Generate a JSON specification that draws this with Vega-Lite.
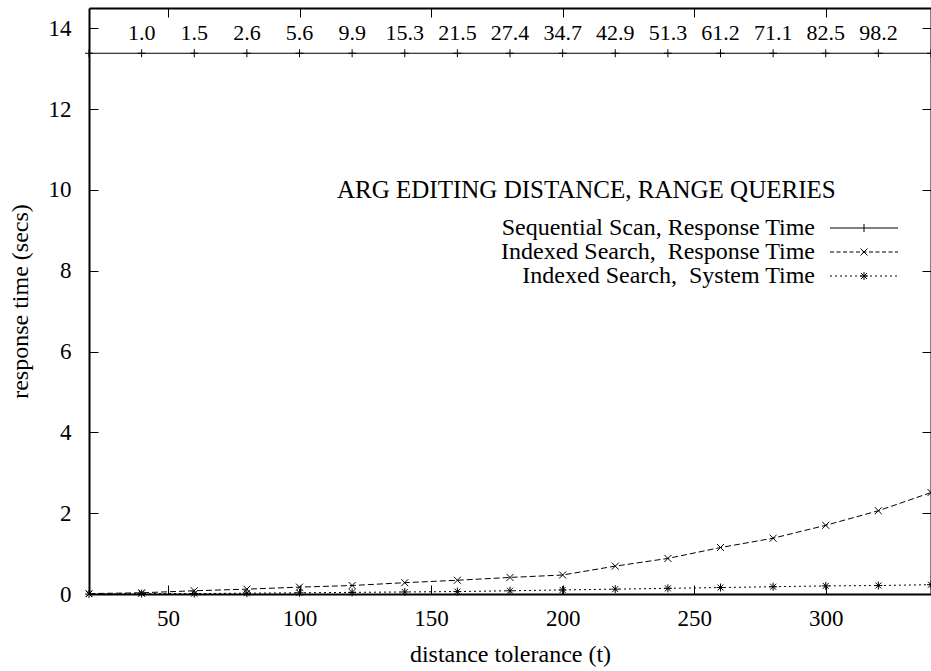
{
  "$schema": "https://vega.github.io/schema/vega-lite/v6.json",
  "width": 842,
  "height": 586,
  "autosize": {"type": "none"},
  "padding": {"left": 89, "top": 8, "right": 0, "bottom": 77},
  "background": "white",
  "config": {
    "view": {"stroke": null},
    "font": "Liberation Serif",
    "axis": {
      "grid": false,
      "domainColor": "black",
      "domainWidth": 2,
      "tickColor": "black",
      "tickWidth": 1,
      "tickSize": -9,
      "labelFont": "Liberation Serif",
      "labelFontSize": 23,
      "labelColor": "black",
      "titleFont": "Liberation Serif",
      "titleFontSize": 24,
      "titleFontWeight": "normal",
      "titleColor": "black"
    }
  },
  "data": {
    "values": [
      {"series": "Sequential Scan, Response Time", "x": 20, "y": 13.38, "label": null},
      {"series": "Sequential Scan, Response Time", "x": 40, "y": 13.38, "label": "1.0"},
      {"series": "Sequential Scan, Response Time", "x": 60, "y": 13.38, "label": "1.5"},
      {"series": "Sequential Scan, Response Time", "x": 80, "y": 13.38, "label": "2.6"},
      {"series": "Sequential Scan, Response Time", "x": 100, "y": 13.38, "label": "5.6"},
      {"series": "Sequential Scan, Response Time", "x": 120, "y": 13.38, "label": "9.9"},
      {"series": "Sequential Scan, Response Time", "x": 140, "y": 13.38, "label": "15.3"},
      {"series": "Sequential Scan, Response Time", "x": 160, "y": 13.38, "label": "21.5"},
      {"series": "Sequential Scan, Response Time", "x": 180, "y": 13.38, "label": "27.4"},
      {"series": "Sequential Scan, Response Time", "x": 200, "y": 13.38, "label": "34.7"},
      {"series": "Sequential Scan, Response Time", "x": 220, "y": 13.38, "label": "42.9"},
      {"series": "Sequential Scan, Response Time", "x": 240, "y": 13.38, "label": "51.3"},
      {"series": "Sequential Scan, Response Time", "x": 260, "y": 13.38, "label": "61.2"},
      {"series": "Sequential Scan, Response Time", "x": 280, "y": 13.38, "label": "71.1"},
      {"series": "Sequential Scan, Response Time", "x": 300, "y": 13.38, "label": "82.5"},
      {"series": "Sequential Scan, Response Time", "x": 320, "y": 13.38, "label": "98.2"},
      {"series": "Sequential Scan, Response Time", "x": 340, "y": 13.38, "label": null},
      {"series": "Indexed Search,\u00a0 Response Time", "x": 20, "y": 0.01},
      {"series": "Indexed Search,\u00a0 Response Time", "x": 40, "y": 0.03},
      {"series": "Indexed Search,\u00a0 Response Time", "x": 60, "y": 0.08},
      {"series": "Indexed Search,\u00a0 Response Time", "x": 80, "y": 0.12},
      {"series": "Indexed Search,\u00a0 Response Time", "x": 100, "y": 0.17},
      {"series": "Indexed Search,\u00a0 Response Time", "x": 120, "y": 0.21},
      {"series": "Indexed Search,\u00a0 Response Time", "x": 140, "y": 0.28},
      {"series": "Indexed Search,\u00a0 Response Time", "x": 160, "y": 0.34},
      {"series": "Indexed Search,\u00a0 Response Time", "x": 180, "y": 0.41},
      {"series": "Indexed Search,\u00a0 Response Time", "x": 200, "y": 0.47},
      {"series": "Indexed Search,\u00a0 Response Time", "x": 220, "y": 0.69},
      {"series": "Indexed Search,\u00a0 Response Time", "x": 240, "y": 0.88},
      {"series": "Indexed Search,\u00a0 Response Time", "x": 260, "y": 1.15},
      {"series": "Indexed Search,\u00a0 Response Time", "x": 280, "y": 1.38},
      {"series": "Indexed Search,\u00a0 Response Time", "x": 300, "y": 1.7},
      {"series": "Indexed Search,\u00a0 Response Time", "x": 320, "y": 2.06},
      {"series": "Indexed Search,\u00a0 Response Time", "x": 340, "y": 2.51},
      {"series": "Indexed Search,\u00a0 System Time", "x": 20, "y": 0.0},
      {"series": "Indexed Search,\u00a0 System Time", "x": 40, "y": 0.01},
      {"series": "Indexed Search,\u00a0 System Time", "x": 60, "y": 0.01},
      {"series": "Indexed Search,\u00a0 System Time", "x": 80, "y": 0.02},
      {"series": "Indexed Search,\u00a0 System Time", "x": 100, "y": 0.03},
      {"series": "Indexed Search,\u00a0 System Time", "x": 120, "y": 0.04},
      {"series": "Indexed Search,\u00a0 System Time", "x": 140, "y": 0.05},
      {"series": "Indexed Search,\u00a0 System Time", "x": 160, "y": 0.06},
      {"series": "Indexed Search,\u00a0 System Time", "x": 180, "y": 0.08},
      {"series": "Indexed Search,\u00a0 System Time", "x": 200, "y": 0.1},
      {"series": "Indexed Search,\u00a0 System Time", "x": 220, "y": 0.12},
      {"series": "Indexed Search,\u00a0 System Time", "x": 240, "y": 0.14},
      {"series": "Indexed Search,\u00a0 System Time", "x": 260, "y": 0.16},
      {"series": "Indexed Search,\u00a0 System Time", "x": 280, "y": 0.18},
      {"series": "Indexed Search,\u00a0 System Time", "x": 300, "y": 0.2},
      {"series": "Indexed Search,\u00a0 System Time", "x": 320, "y": 0.21},
      {"series": "Indexed Search,\u00a0 System Time", "x": 340, "y": 0.23}
    ]
  },
  "layer": [
    {
      "mark": {"type": "line", "color": "black", "strokeWidth": 1, "clip": true},
      "encoding": {
        "x": {
          "field": "x", "type": "quantitative",
          "scale": {"domain": [20, 340], "nice": false, "zero": false},
          "axis": {"orient": "bottom", "values": [50, 100, 150, 200, 250, 300], "labelPadding": 22, "title": "distance tolerance (t)", "titlePadding": 12}
        },
        "y": {
          "field": "y", "type": "quantitative",
          "scale": {"domain": [0, 14.5], "nice": false},
          "axis": {"orient": "left", "values": [0, 2, 4, 6, 8, 10, 12, 14], "labelPadding": 27, "title": "response time (secs)", "titlePadding": 16}
        },
        "strokeDash": {
          "field": "series", "type": "nominal",
          "scale": {"domain": ["Sequential Scan, Response Time", "Indexed Search,\u00a0 Response Time", "Indexed Search,\u00a0 System Time"], "range": [[1, 0], [6, 3], [2, 3]]},
          "legend": null
        }
      }
    },
    {
      "mark": {"type": "point", "color": "black", "filled": false, "strokeWidth": 1, "size": 100, "opacity": 1},
      "encoding": {
        "x": {"field": "x", "type": "quantitative", "axis": null},
        "y": {"field": "y", "type": "quantitative", "axis": null},
        "shape": {
          "field": "series", "type": "nominal",
          "scale": {"domain": ["Sequential Scan, Response Time", "Indexed Search,\u00a0 Response Time", "Indexed Search,\u00a0 System Time"],
            "range": ["M-0.8,0L0.8,0M0,-0.8L0,0.8", "M-0.7,-0.7L0.7,0.7M-0.7,0.7L0.7,-0.7", "M-0.8,0L0.8,0M0,-0.8L0,0.8M-0.6,-0.6L0.6,0.6M-0.6,0.6L0.6,-0.6"]},
          "legend": null
        }
      }
    },
    {
      "mark": {"type": "point", "color": "black", "filled": false, "strokeWidth": 1, "size": 100, "opacity": 0},
      "encoding": {
        "x": {"field": "x", "type": "quantitative", "axis": null},
        "y": {"field": "y", "type": "quantitative", "axis": null},
        "shape": {
          "field": "series", "type": "nominal",
          "scale": {"domain": ["Sequential Scan, Response Time", "Indexed Search,\u00a0 Response Time", "Indexed Search,\u00a0 System Time"],
            "range": [
              "M-6.8,0L6.8,0M0,-0.8L0,0.8",
              "M-6.8,0L-6,0M-5.5,0L-4.7,0M-4.2,0L-3.4,0M-2.9,0L-2.1,0M-1.6,0L-0.8,0M-0.3,0L0.5,0M1,0L1.8,0M2.3,0L3.1,0M3.6,0L4.4,0M4.9,0L5.7,0M6.2,0L6.8,0M-0.7,-0.7L0.7,0.7M-0.7,0.7L0.7,-0.7",
              "M-6.8,0L-6.4,0M-5.8,0L-5.4,0M-4.8,0L-4.4,0M-3.8,0L-3.4,0M-2.8,0L-2.4,0M-1.8,0L-1.4,0M-0.8,0L-0.4,0M0.2,0L0.6,0M1.2,0L1.6,0M2.2,0L2.6,0M3.2,0L3.6,0M4.2,0L4.6,0M5.2,0L5.6,0M6.2,0L6.6,0M-0.8,0L0.8,0M0,-0.8L0,0.8M-0.6,-0.6L0.6,0.6M-0.6,0.6L0.6,-0.6"
            ]},
          "legend": {
            "orient": "none",
            "legendX": 248,
            "legendY": 170,
            "padding": 0,
            "title": "ARG EDITING DISTANCE, RANGE QUERIES",
            "titleFont": "Liberation Serif",
            "titleFontSize": 25,
            "titleFontWeight": "normal",
            "titleColor": "black",
            "titleAnchor": "start",
            "titlePadding": 13,
            "titleLimit": 1000,
            "labelFont": "Liberation Serif",
            "labelFontSize": 24,
            "labelColor": "black",
            "labelAlign": "right",
            "labelOffset": -61,
            "labelLimit": 1000,
            "symbolOffset": 515,
            "symbolSize": 100,
            "symbolStrokeColor": "black",
            "symbolStrokeWidth": 1,
            "symbolOpacity": 1,
            "symbolFillColor": "transparent",
            "rowPadding": 0
          }
        }
      }
    },
    {
      "transform": [{"filter": "datum.label != null"}],
      "mark": {"type": "text", "color": "black", "fontSize": 22, "font": "Liberation Serif", "baseline": "alphabetic", "dy": -13},
      "encoding": {
        "x": {"field": "x", "type": "quantitative", "axis": {"orient": "top", "values": [50, 100, 150, 200, 250, 300], "labels": false, "title": null}},
        "y": {"field": "y", "type": "quantitative", "axis": {"orient": "right", "values": [0, 2, 4, 6, 8, 10, 12, 14], "labels": false, "title": null}},
        "text": {"field": "label"}
      }
    }
  ],
  "resolve": {"scale": {"shape": "independent"}, "axis": {"x": "independent", "y": "independent"}}
}
